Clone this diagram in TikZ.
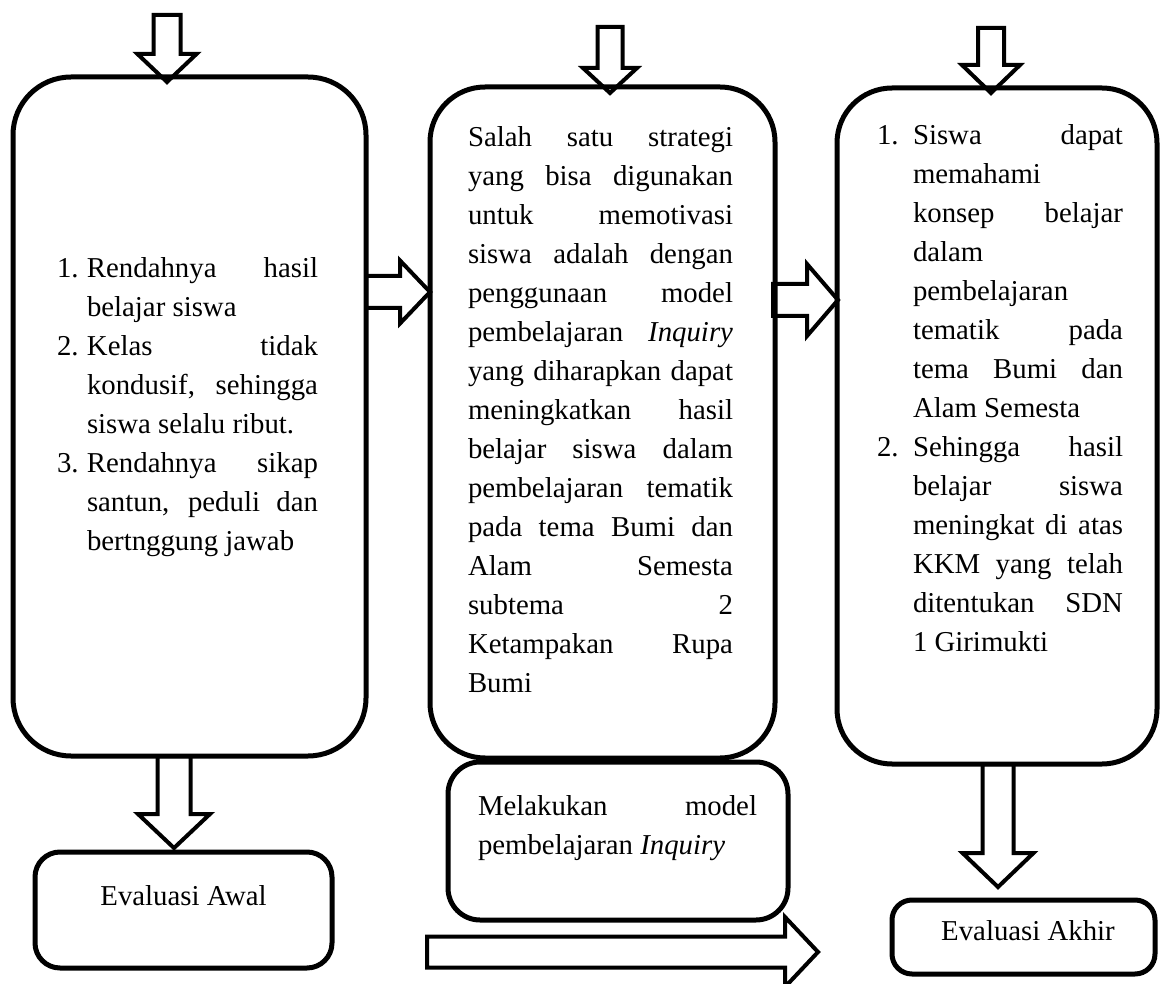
\documentclass[tikz,border=0pt]{standalone}
\usepackage{fontspec}
\setmainfont{Liberation Serif}
% one justified line and one left-aligned line of a text column
\newcommand{\JL}[1]{\makebox[\linewidth][s]{#1}\par}
\newcommand{\RL}[1]{\makebox[\linewidth][l]{#1}\par}
% list number hanging to the left of the column
\newcommand{\Lbl}[2]{\llap{\makebox[#1][l]{#2}}}
\pgfdeclarelayer{arrows}
\pgfsetlayers{arrows,main}
\begin{document}
\begin{tikzpicture}[x=1pt,y=-1pt,
  box/.style={draw, line width=5pt, inner sep=0pt, outer sep=0pt},
  arrowline/.style={draw, line width=4pt, fill=white},
  txt/.style={inner sep=0pt, outer sep=0pt, font=\fontsize{28.8}{39}\selectfont},
  % block arrow pointing down, tip at the origin: shaft half-width, head half-width, head length, total length
  pics/darrow/.style n args={4}{code={\path[arrowline] (0,0) -- (#2,-#3) -- (#1,-#3) -- (#1,-#4) -- (-#1,-#4) -- (-#1,-#3) -- (-#2,-#3) -- cycle;}},
  % block arrow pointing right, same parameters
  pics/rarrow/.style n args={4}{code={\path[arrowline] (0,0) -- (-#3,-#2) -- (-#3,-#1) -- (-#4,-#1) -- (-#4,#1) -- (-#3,#1) -- (-#3,#2) -- cycle;}},
]
\useasboundingbox (0,0) rectangle (1160,984);

% boxes
\node[box, minimum width=353pt, minimum height=679pt, rounded corners=58pt] (b1) at (189.5,416.5) {};
\node[box, minimum width=345pt, minimum height=671pt, rounded corners=55pt] (b2) at (602.5,422.5) {};
\node[box, minimum width=320pt, minimum height=676pt, rounded corners=55pt] (b3) at (997,426) {};
\node[box, minimum width=340pt, minimum height=158pt, rounded corners=32pt] (b4) at (618,841) {};
\node[box, minimum width=297pt, minimum height=116pt, rounded corners=25pt] (b5) at (183.5,910) {};
\node[box, minimum width=263pt, minimum height=74pt, rounded corners=20pt] (b6) at (1023.5,937) {};

% block arrows, kept beneath the box outlines
\begin{pgfonlayer}{arrows}
\pic at ([shift={(-22.5,5)}]b1.north) {darrow={13.5}{29.5}{28}{67}};
\pic at ([shift={(7.5,6)}]b2.north) {darrow={12.5}{27}{25}{66}};
\pic at ([shift={(-6,5)}]b3.north) {darrow={13}{29}{28}{65}};
\pic at ([shift={(0,-130.5)}]b2.west) {rarrow={16}{31.5}{30}{64}};
\pic at ([shift={(1,-126)}]b3.west) {rarrow={16}{36}{31}{65}};
\pic at ([shift={(-9.5,-4)}]b5.north) {darrow={16.5}{36}{34}{92}};
\pic at ([shift={(-25.5,-13)}]b6.north) {darrow={15.5}{35.5}{34}{123}};
\pic at ([shift={(200,32)}]b4.south) {rarrow={15.5}{35}{33}{391}};
\end{pgfonlayer}

% texts
\node[txt, anchor=base west] (t1) at (87,278) {\parbox[t]{231pt}{%
\JL{\Lbl{30pt}{1.}Rendahnya hasil}
\RL{belajar siswa}
\JL{\Lbl{30pt}{2.}Kelas tidak}
\JL{kondusif, sehingga}
\RL{siswa selalu ribut.}
\JL{\Lbl{30pt}{3.}Rendahnya sikap}
\JL{santun, peduli dan}
\RL{bertnggung jawab}}};

\node[txt, anchor=base west] (t2) at (468,147) {\parbox[t]{265pt}{%
\JL{Salah satu strategi}
\JL{yang bisa digunakan}
\JL{untuk memotivasi}
\JL{siswa adalah dengan}
\JL{penggunaan model}
\JL{pembelajaran \textit{Inquiry}}
\JL{yang diharapkan dapat}
\JL{meningkatkan hasil}
\JL{belajar siswa dalam}
\JL{pembelajaran tematik}
\JL{pada tema Bumi dan}
\JL{Alam Semesta}
\JL{subtema 2}
\JL{Ketampakan Rupa}
\RL{Bumi}}};

\node[txt, anchor=base west] (t3) at (913,145) {\parbox[t]{210pt}{%
\JL{\Lbl{36pt}{1.}Siswa dapat}
\RL{memahami}
\JL{konsep belajar}
\RL{dalam}
\RL{pembelajaran}
\JL{tematik pada}
\JL{tema Bumi dan}
\RL{Alam Semesta}
\JL{\Lbl{36pt}{2.}Sehingga hasil}
\JL{belajar siswa}
\JL{meningkat di atas}
\JL{KKM yang telah}
\JL{ditentukan SDN}
\RL{1 Girimukti}}};

\node[txt, anchor=base west] (t4) at (478,815) {\parbox[t]{279pt}{%
\JL{Melakukan model}
\RL{pembelajaran \textit{Inquiry}}}};

\node[txt, anchor=base] (t5) at (183.5,905) {Evaluasi Awal};
\node[txt, anchor=base] (t6) at (1028,940) {Evaluasi Akhir};
\end{tikzpicture}
\end{document}
